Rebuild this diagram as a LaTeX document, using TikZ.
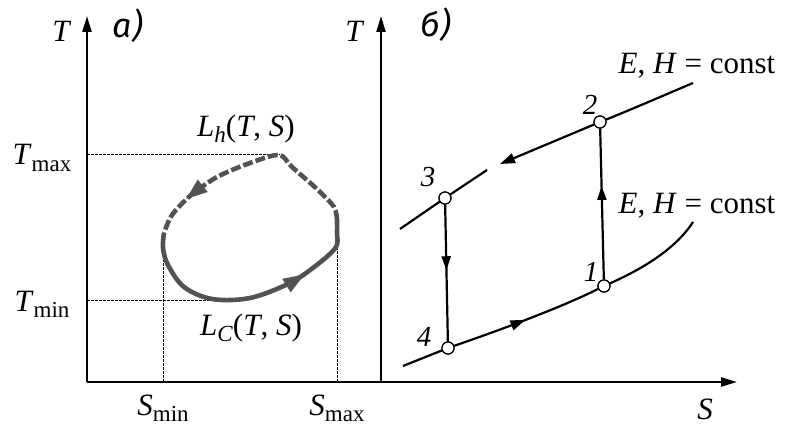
\documentclass[tikz,border=0pt]{standalone}
\usepackage{fontspec}
\setmainfont{Liberation Serif}
\newfontfamily\lblfont{Fira Sans}
\usetikzlibrary{arrows.meta,decorations.markings}
\newcommand\mysub[1]{\raisebox{-0.2em}{\fontsize{23}{23}\selectfont #1}}
\begin{document}
\begin{tikzpicture}[x=1pt,y=-1pt,
  axis/.style={line width=2.2pt,-{Triangle[length=16pt,width=9pt]}},
  guide/.style={line width=1pt,dash pattern=on 2.5pt off 1.5pt},
  lbl/.style={font=\fontsize{31}{33}\selectfont,inner sep=0pt},
  num/.style={font=\fontsize{29}{31}\selectfont\itshape,inner sep=0pt},
  panel/.style={font=\lblfont\fontsize{34}{36}\selectfont\itshape,inner sep=0pt},
  loopc/.style={line width=4.6pt,color=black!68},
  curve/.style={line width=2.2pt},
  bigtri/.style={decoration={markings,mark=at position #1 with {\fill[solid] (8pt,0pt) -- (-13pt,8pt) -- (-13pt,-8pt) -- cycle;}},postaction=decorate},
  pt/.style={circle,draw,line width=1.2pt,fill=white,minimum size=12pt,inner sep=0pt}]
\useasboundingbox (0,0) rectangle (787,427);
% axes
\coordinate (O1) at (87,382);
\coordinate (Y1) at (87,16);
\coordinate (O2) at (381,382);
\coordinate (Y2) at (381,16);
\coordinate (X) at (737,382);
\draw[axis] (O1) -- (Y1);
\draw[axis] (O2) -- (Y2);
\draw[axis] (O1) -- (X);
\node[lbl] (tl) at (62,31) {\textit{T}};
\node[lbl] (tr) at (355,31) {\textit{T}};
\node[panel] (pa) at (128,26) {a)};
\node[panel] (pb) at (436,25) {б)};
\node[lbl] (sx) at (705,409) {\textit{S}};
% guides
\coordinate (gTmax) at (87,155);
\coordinate (eTmax) at (280,155);
\coordinate (gTmin) at (87,301);
\coordinate (eTmin) at (212,301);
\coordinate (gSmin) at (163,382);
\coordinate (eSmin) at (163,258);
\coordinate (gSmax) at (337,382);
\coordinate (eSmax) at (337,245);
\draw[guide] (gTmax) -- (eTmax);
\draw[guide] (gTmin) -- (eTmin);
\draw[guide] (gSmin) -- (eSmin);
\draw[guide] (gSmax) -- (eSmax);
\node[lbl] (Tmax) at (42,158) {\textit{T}\mysub{max}};
\node[lbl] (Tmin) at (42,304) {\textit{T}\mysub{min}};
\node[lbl] (Smin) at (163,408) {\textit{S}\mysub{min}};
\node[lbl] (Smax) at (337,408) {\textit{S}\mysub{max}};
\node[lbl] (Lh) at (246,129) {\textit{L}\mysub{\textit{h}}(\textit{T}, \textit{S})};
\node[lbl] (Lc) at (251,328) {\textit{L}\mysub{\textit{C}}(\textit{T}, \textit{S})};
% loop
\draw[loopc,dash pattern=on 10pt off 3pt,bigtri=0.79]
  plot[smooth,tension=0.5] coordinates {(337,220) (334,207) (318,190) (292,167) (279,155) (250,163) (217,177) (190,196) (172,215) (164,233)};
\draw[loopc,bigtri=0.7]
  plot[smooth,tension=0.55] coordinates {(164,233) (163,248) (168,265) (184,287) (212,299) (250,298) (290,283) (318,264) (336,247) (337,233) (337,220)};
% right panel
\node[pt] (p2) at (600,122) {};
\node[pt] (p3) at (445,198) {};
\node[pt] (p1) at (604,286) {};
\node[pt] (p4) at (448,348) {};
\coordinate (u0) at (400,229);
\coordinate (u1) at (487,170);
\coordinate (u2) at (500,164);
\coordinate (u3) at (693,83);
\coordinate (l0) at (403,366);
\coordinate (l3) at (693,222);
\draw[curve] (u0) -- (p3) -- (u1);
\draw[curve,-{Triangle[length=15pt,width=10pt]}] (p2) -- (u2);
\draw[curve] (p2) .. controls (630,110) and (660,97) .. (u3);
\draw[curve] (l0) -- (p4);
\draw[curve,
  decoration={markings,mark=at position 0.49 with {\arrow{Triangle[length=15pt,width=10pt]}}},postaction=decorate]
  (p4) .. controls (500,330) and (560,308) .. (p1);
\draw[curve] (p1) .. controls (640,270) and (675,250) .. (l3);
\draw[curve,
  decoration={markings,mark=at position 0.62 with {\arrow{Triangle[length=14pt,width=9pt]}}},postaction=decorate]
  (p1) -- (p2);
\draw[curve,
  decoration={markings,mark=at position 0.48 with {\arrow{Triangle[length=14pt,width=9pt]}}},postaction=decorate]
  (p3) -- (p4);
\node[pt] at (p2) {};
\node[pt] at (p3) {};
\node[pt] at (p1) {};
\node[pt] at (p4) {};
\node[num] (n2) at (590,105) {2};
\node[num] (n3) at (428,177) {3};
\node[num] (n1) at (591,272) {1};
\node[num] (n4) at (424,337) {4};
\node[lbl] (c1) at (697,66) {\textit{E}, \textit{H} = const};
\node[lbl] (c2) at (697,206) {\textit{E}, \textit{H} = const};
\end{tikzpicture}
\end{document}
